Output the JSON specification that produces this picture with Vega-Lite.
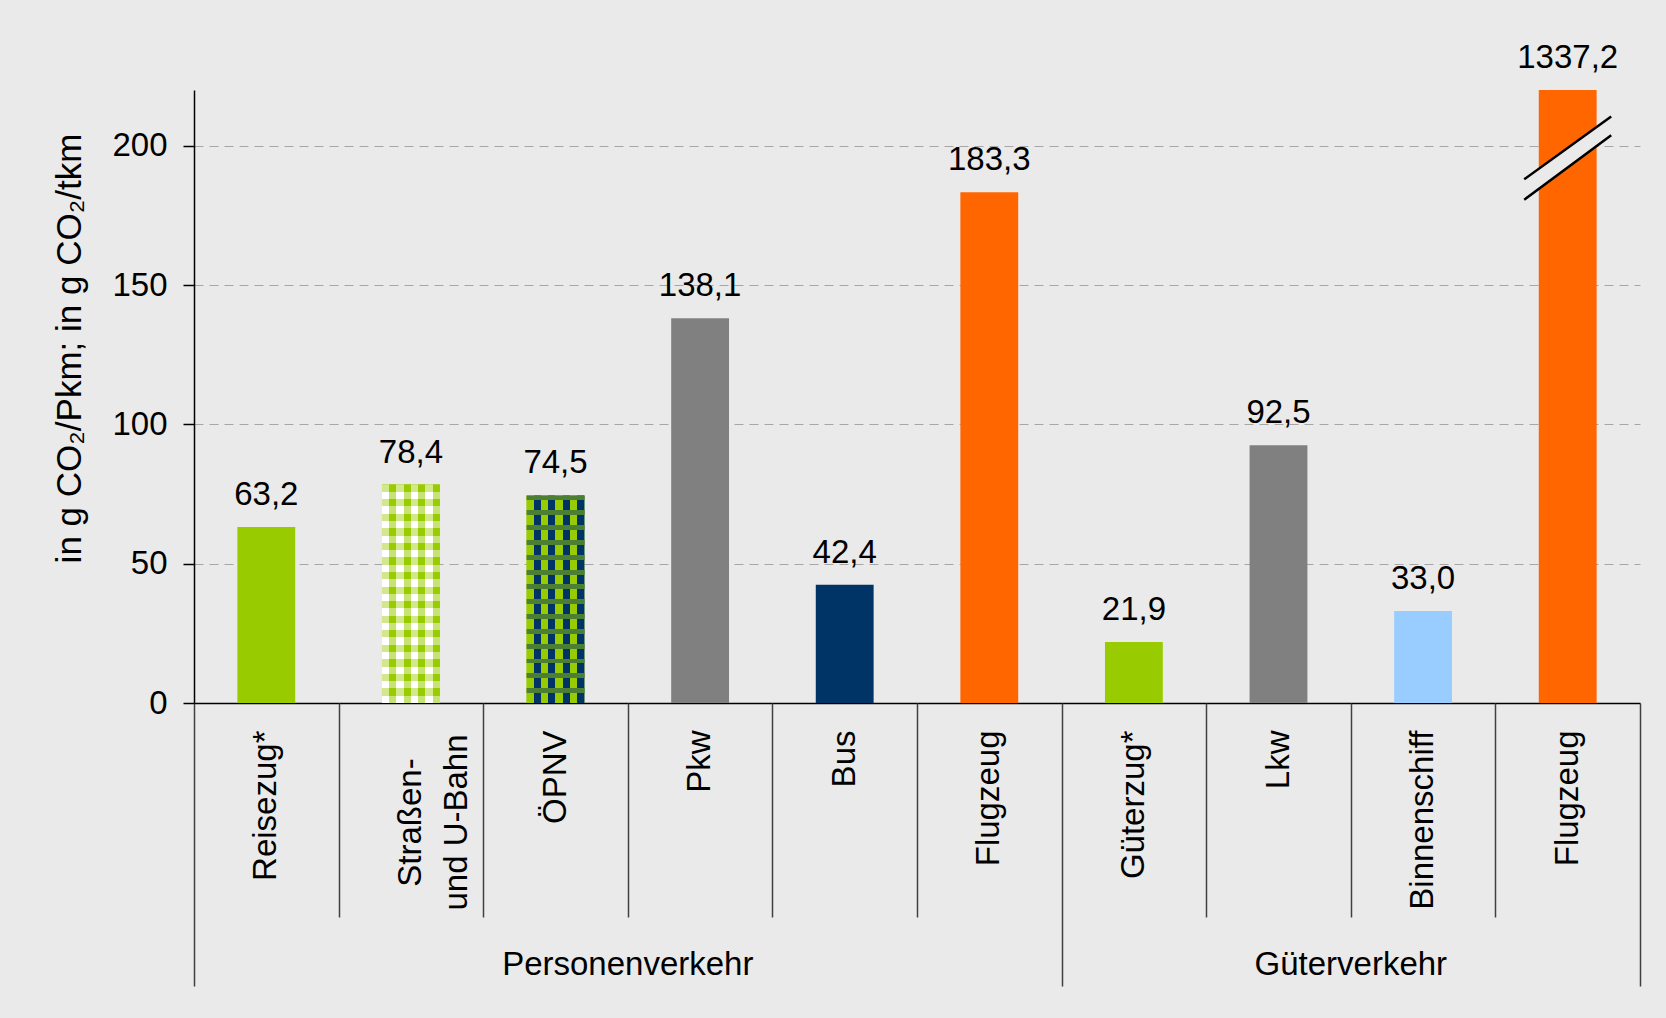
{
  "$schema": "https://vega.github.io/schema/vega-lite/v6.json",
  "width": 1446,
  "height": 613,
  "autosize": {"type": "none"},
  "padding": {"left": 194, "top": 90, "right": 26, "bottom": 315},
  "background": "#eaeaea",
  "config": {
    "font": "Liberation Sans",
    "view": {"stroke": null},
    "locale": {"number": {"decimal": ",", "thousands": ".", "grouping": [3], "currency": ["", " €"]}}
  },
  "data": {
    "values": [
      {"key": "Reisezug*", "group": "Personenverkehr", "value": 63.2},
      {"key": "Straßen- und U-Bahn", "group": "Personenverkehr", "value": 78.4},
      {"key": "ÖPNV", "group": "Personenverkehr", "value": 74.5},
      {"key": "Pkw", "group": "Personenverkehr", "value": 138.1},
      {"key": "Bus", "group": "Personenverkehr", "value": 42.4},
      {"key": "Flugzeug (P)", "group": "Personenverkehr", "value": 183.3},
      {"key": "Güterzug*", "group": "Güterverkehr", "value": 21.9},
      {"key": "Lkw", "group": "Güterverkehr", "value": 92.5},
      {"key": "Binnenschiff", "group": "Güterverkehr", "value": 33.0},
      {"key": "Flugzeug (G)", "group": "Güterverkehr", "value": 1337.2}
    ]
  },
  "resolve": {"axis": {"x": "independent"}},
  "layer": [
    {
      "mark": {"type": "bar", "width": {"band": 0.4}},
      "encoding": {
        "x": {
          "field": "key", "type": "nominal",
          "scale": {"type": "band", "domain": ["Reisezug*", "Straßen- und U-Bahn", "ÖPNV", "Pkw", "Bus", "Flugzeug (P)", "Güterzug*", "Lkw", "Binnenschiff", "Flugzeug (G)"], "paddingInner": 0, "paddingOuter": 0},
          "axis": {
            "orient": "bottom",
            "title": null, "ticks": false, "tickSize": 0, "grid": false,
            "domain": true, "domainColor": "#000000", "domainWidth": 1.5,
            "labelAngle": -90, "labelFontSize": 33, "labelColor": "#000000", "labelFont": "Liberation Sans",
            "labelLimit": 500, "labelOverlap": false, "labelLineHeight": 46,
            "labelAlign": {"condition": {"test": "datum.value == 'Straßen- und U-Bahn'", "value": "center"}, "value": "right"},
            "labelPadding": {"condition": {"test": "datum.value == 'Straßen- und U-Bahn'", "value": 119}, "value": 27},
            "labelExpr": "datum.value == 'Straßen- und U-Bahn' ? ['Straßen-', 'und U-Bahn'] : replace(replace(datum.value, ' (P)', ''), ' (G)', '')"
          }
        },
        "y": {
          "field": "value", "type": "quantitative",
          "scale": {"domain": [0, 220], "clamp": true, "nice": false},
          "axis": {
            "orient": "left",
            "values": [0, 50, 100, 150, 200],
            "title": "in g CO₂/Pkm; in g CO₂/tkm",
            "titleFontSize": 35, "titleFontWeight": "normal", "titleColor": "#000000", "titleFont": "Liberation Sans",
            "titleX": -125, "titleY": 258, "titleAngle": -90, "titleAlign": "center", "titleBaseline": "middle",
            "labelFontSize": 33, "labelColor": "#000000", "labelPadding": 16, "labelFont": "Liberation Sans",
            "tickSize": 11, "tickColor": "#000000", "tickWidth": 1.5,
            "domainColor": "#000000", "domainWidth": 1.5,
            "grid": true, "gridColor": "#a6a6a6", "gridDash": [9, 6], "gridWidth": 1
          }
        },
        "color": {
          "field": "key", "type": "nominal", "legend": null,
          "scale": {
            "domain": ["Reisezug*", "Straßen- und U-Bahn", "ÖPNV", "Pkw", "Bus", "Flugzeug (P)", "Güterzug*", "Lkw", "Binnenschiff", "Flugzeug (G)"],
            "range": ["#99cc00", "#99cc00", "#99cc00", "#808080", "#003366", "#ff6600", "#99cc00", "#808080", "#99ccff", "#ff6600"]
          }
        }
      }
    },
    {
      "transform": [{"filter": "datum.key == 'Straßen- und U-Bahn'"}],
      "mark": {
        "type": "bar", "width": {"band": 0.4},
        "fill": {"gradient": "linear", "x1": 0, "y1": 0, "x2": 0, "y2": 1, "stops": [
          {"offset": 0, "color": "#99cc00"}, {"offset": 0.0333, "color": "#99cc00"}, {"offset": 0.0333, "color": "#ffffff"}, {"offset": 0.0667, "color": "#ffffff"},
          {"offset": 0.0667, "color": "#99cc00"}, {"offset": 0.1, "color": "#99cc00"}, {"offset": 0.1, "color": "#ffffff"}, {"offset": 0.1333, "color": "#ffffff"},
          {"offset": 0.1333, "color": "#99cc00"}, {"offset": 0.1667, "color": "#99cc00"}, {"offset": 0.1667, "color": "#ffffff"}, {"offset": 0.2, "color": "#ffffff"},
          {"offset": 0.2, "color": "#99cc00"}, {"offset": 0.2333, "color": "#99cc00"}, {"offset": 0.2333, "color": "#ffffff"}, {"offset": 0.2667, "color": "#ffffff"},
          {"offset": 0.2667, "color": "#99cc00"}, {"offset": 0.3, "color": "#99cc00"}, {"offset": 0.3, "color": "#ffffff"}, {"offset": 0.3333, "color": "#ffffff"},
          {"offset": 0.3333, "color": "#99cc00"}, {"offset": 0.3667, "color": "#99cc00"}, {"offset": 0.3667, "color": "#ffffff"}, {"offset": 0.4, "color": "#ffffff"},
          {"offset": 0.4, "color": "#99cc00"}, {"offset": 0.4333, "color": "#99cc00"}, {"offset": 0.4333, "color": "#ffffff"}, {"offset": 0.4667, "color": "#ffffff"},
          {"offset": 0.4667, "color": "#99cc00"}, {"offset": 0.5, "color": "#99cc00"}, {"offset": 0.5, "color": "#ffffff"}, {"offset": 0.5333, "color": "#ffffff"},
          {"offset": 0.5333, "color": "#99cc00"}, {"offset": 0.5667, "color": "#99cc00"}, {"offset": 0.5667, "color": "#ffffff"}, {"offset": 0.6, "color": "#ffffff"},
          {"offset": 0.6, "color": "#99cc00"}, {"offset": 0.6333, "color": "#99cc00"}, {"offset": 0.6333, "color": "#ffffff"}, {"offset": 0.6667, "color": "#ffffff"},
          {"offset": 0.6667, "color": "#99cc00"}, {"offset": 0.7, "color": "#99cc00"}, {"offset": 0.7, "color": "#ffffff"}, {"offset": 0.7333, "color": "#ffffff"},
          {"offset": 0.7333, "color": "#99cc00"}, {"offset": 0.7667, "color": "#99cc00"}, {"offset": 0.7667, "color": "#ffffff"}, {"offset": 0.8, "color": "#ffffff"},
          {"offset": 0.8, "color": "#99cc00"}, {"offset": 0.8333, "color": "#99cc00"}, {"offset": 0.8333, "color": "#ffffff"}, {"offset": 0.8667, "color": "#ffffff"},
          {"offset": 0.8667, "color": "#99cc00"}, {"offset": 0.9, "color": "#99cc00"}, {"offset": 0.9, "color": "#ffffff"}, {"offset": 0.9333, "color": "#ffffff"},
          {"offset": 0.9333, "color": "#99cc00"}, {"offset": 0.9667, "color": "#99cc00"}, {"offset": 0.9667, "color": "#ffffff"}, {"offset": 1, "color": "#ffffff"}
        ]}
      },
      "encoding": {
        "x": {"field": "key", "type": "nominal", "scale": {"type": "band"}, "axis": null},
        "y": {"field": "value", "type": "quantitative"}
      }
    },
    {
      "transform": [{"filter": "datum.key == 'Straßen- und U-Bahn'"}],
      "mark": {
        "type": "bar", "width": {"band": 0.4},
        "fill": {"gradient": "linear", "x1": 0, "y1": 0, "x2": 1, "y2": 0, "stops": [
          {"offset": 0, "color": "rgba(255,255,255,0.55)"}, {"offset": 0.125, "color": "rgba(255,255,255,0.55)"},
          {"offset": 0.125, "color": "rgba(153,204,0,0.55)"}, {"offset": 0.25, "color": "rgba(153,204,0,0.55)"},
          {"offset": 0.25, "color": "rgba(255,255,255,0.55)"}, {"offset": 0.375, "color": "rgba(255,255,255,0.55)"},
          {"offset": 0.375, "color": "rgba(153,204,0,0.55)"}, {"offset": 0.5, "color": "rgba(153,204,0,0.55)"},
          {"offset": 0.5, "color": "rgba(255,255,255,0.55)"}, {"offset": 0.625, "color": "rgba(255,255,255,0.55)"},
          {"offset": 0.625, "color": "rgba(153,204,0,0.55)"}, {"offset": 0.75, "color": "rgba(153,204,0,0.55)"},
          {"offset": 0.75, "color": "rgba(255,255,255,0.55)"}, {"offset": 0.875, "color": "rgba(255,255,255,0.55)"},
          {"offset": 0.875, "color": "rgba(153,204,0,0.55)"}, {"offset": 1, "color": "rgba(153,204,0,0.55)"}
        ]}
      },
      "encoding": {
        "x": {"field": "key", "type": "nominal", "scale": {"type": "band"}, "axis": null},
        "y": {"field": "value", "type": "quantitative"}
      }
    },
    {
      "transform": [{"filter": "datum.key == 'ÖPNV'"}],
      "mark": {
        "type": "bar", "width": {"band": 0.4},
        "fill": {"gradient": "linear", "x1": 0, "y1": 0, "x2": 1, "y2": 0, "stops": [
          {"offset": 0, "color": "#99cc00"}, {"offset": 0.125, "color": "#99cc00"}, {"offset": 0.125, "color": "#003366"}, {"offset": 0.25, "color": "#003366"},
          {"offset": 0.25, "color": "#99cc00"}, {"offset": 0.375, "color": "#99cc00"}, {"offset": 0.375, "color": "#003366"}, {"offset": 0.5, "color": "#003366"},
          {"offset": 0.5, "color": "#99cc00"}, {"offset": 0.625, "color": "#99cc00"}, {"offset": 0.625, "color": "#003366"}, {"offset": 0.75, "color": "#003366"},
          {"offset": 0.75, "color": "#99cc00"}, {"offset": 0.875, "color": "#99cc00"}, {"offset": 0.875, "color": "#003366"}, {"offset": 1, "color": "#003366"}
        ]}
      },
      "encoding": {
        "x": {"field": "key", "type": "nominal", "scale": {"type": "band"}, "axis": null},
        "y": {"field": "value", "type": "quantitative"}
      }
    },
    {
      "transform": [{"filter": "datum.key == 'ÖPNV'"}],
      "mark": {
        "type": "bar", "width": {"band": 0.4},
        "fill": {"gradient": "linear", "x1": 0, "y1": 0, "x2": 0, "y2": 1, "stops": [
          {"offset": 0, "color": "#4c7f33"}, {"offset": 0.0238, "color": "#4c7f33"}, {"offset": 0.0238, "color": "rgba(0,0,0,0)"}, {"offset": 0.0714, "color": "rgba(0,0,0,0)"},
          {"offset": 0.0714, "color": "#4c7f33"}, {"offset": 0.0952, "color": "#4c7f33"}, {"offset": 0.0952, "color": "rgba(0,0,0,0)"}, {"offset": 0.1429, "color": "rgba(0,0,0,0)"},
          {"offset": 0.1429, "color": "#4c7f33"}, {"offset": 0.1667, "color": "#4c7f33"}, {"offset": 0.1667, "color": "rgba(0,0,0,0)"}, {"offset": 0.2143, "color": "rgba(0,0,0,0)"},
          {"offset": 0.2143, "color": "#4c7f33"}, {"offset": 0.2381, "color": "#4c7f33"}, {"offset": 0.2381, "color": "rgba(0,0,0,0)"}, {"offset": 0.2857, "color": "rgba(0,0,0,0)"},
          {"offset": 0.2857, "color": "#4c7f33"}, {"offset": 0.3095, "color": "#4c7f33"}, {"offset": 0.3095, "color": "rgba(0,0,0,0)"}, {"offset": 0.3571, "color": "rgba(0,0,0,0)"},
          {"offset": 0.3571, "color": "#4c7f33"}, {"offset": 0.381, "color": "#4c7f33"}, {"offset": 0.381, "color": "rgba(0,0,0,0)"}, {"offset": 0.4286, "color": "rgba(0,0,0,0)"},
          {"offset": 0.4286, "color": "#4c7f33"}, {"offset": 0.4524, "color": "#4c7f33"}, {"offset": 0.4524, "color": "rgba(0,0,0,0)"}, {"offset": 0.5, "color": "rgba(0,0,0,0)"},
          {"offset": 0.5, "color": "#4c7f33"}, {"offset": 0.5238, "color": "#4c7f33"}, {"offset": 0.5238, "color": "rgba(0,0,0,0)"}, {"offset": 0.5714, "color": "rgba(0,0,0,0)"},
          {"offset": 0.5714, "color": "#4c7f33"}, {"offset": 0.5952, "color": "#4c7f33"}, {"offset": 0.5952, "color": "rgba(0,0,0,0)"}, {"offset": 0.6429, "color": "rgba(0,0,0,0)"},
          {"offset": 0.6429, "color": "#4c7f33"}, {"offset": 0.6667, "color": "#4c7f33"}, {"offset": 0.6667, "color": "rgba(0,0,0,0)"}, {"offset": 0.7143, "color": "rgba(0,0,0,0)"},
          {"offset": 0.7143, "color": "#4c7f33"}, {"offset": 0.7381, "color": "#4c7f33"}, {"offset": 0.7381, "color": "rgba(0,0,0,0)"}, {"offset": 0.7857, "color": "rgba(0,0,0,0)"},
          {"offset": 0.7857, "color": "#4c7f33"}, {"offset": 0.8095, "color": "#4c7f33"}, {"offset": 0.8095, "color": "rgba(0,0,0,0)"}, {"offset": 0.8571, "color": "rgba(0,0,0,0)"},
          {"offset": 0.8571, "color": "#4c7f33"}, {"offset": 0.881, "color": "#4c7f33"}, {"offset": 0.881, "color": "rgba(0,0,0,0)"}, {"offset": 0.9286, "color": "rgba(0,0,0,0)"},
          {"offset": 0.9286, "color": "#4c7f33"}, {"offset": 0.9524, "color": "#4c7f33"}, {"offset": 0.9524, "color": "rgba(0,0,0,0)"}, {"offset": 1, "color": "rgba(0,0,0,0)"}
        ]}
      },
      "encoding": {
        "x": {"field": "key", "type": "nominal", "scale": {"type": "band"}, "axis": null},
        "y": {"field": "value", "type": "quantitative"}
      }
    },
    {
      "mark": {"type": "text", "fontSize": 33, "baseline": "alphabetic", "dy": -22, "color": "#000000", "font": "Liberation Sans"},
      "encoding": {
        "x": {
          "field": "key", "type": "nominal", "scale": {"type": "band"},
          "axis": {
            "orient": "bottom", "title": null, "labels": false, "domain": false, "grid": false, "ticks": true,
            "tickBand": "extent", "tickColor": "#404040", "tickWidth": 1.5,
            "tickSize": {"condition": {"test": "!datum.value || datum.value == 'Flugzeug (P)' || datum.value == 'Flugzeug (G)'", "value": 283}, "value": 214}
          }
        },
        "y": {"field": "value", "type": "quantitative"},
        "text": {"field": "value", "type": "quantitative", "format": ".1f"}
      }
    },
    {
      "transform": [{"filter": "datum.key == 'Pkw' || datum.key == 'Binnenschiff'"}],
      "mark": {"type": "text", "fontSize": 33, "baseline": "middle", "align": "center", "y": "height", "dy": 262, "color": "#000000", "font": "Liberation Sans"},
      "encoding": {
        "x": {"field": "key", "type": "nominal", "scale": {"type": "band"}, "bandPosition": 0, "axis": null},
        "text": {"field": "group", "type": "nominal"}
      }
    },
    {
      "transform": [{"filter": "datum.value > 220"}],
      "mark": {"type": "point", "shape": "M-1,0.497L1,-0.946L1,-0.517L-1,0.967Z", "size": 7569, "filled": true, "fill": "#eaeaea", "stroke": null, "opacity": 1},
      "encoding": {
        "x": {"field": "key", "type": "nominal", "scale": {"type": "band"}, "axis": null},
        "y": {"datum": 195.7, "type": "quantitative"}
      }
    },
    {
      "transform": [{"filter": "datum.value > 220"}],
      "mark": {"type": "point", "shape": "M-1,0.497L1,-0.946M-1,0.967L1,-0.517", "size": 7569, "filled": false, "stroke": "#000000", "strokeWidth": 2.5, "opacity": 1},
      "encoding": {
        "x": {"field": "key", "type": "nominal", "scale": {"type": "band"}, "axis": null},
        "y": {"datum": 195.7, "type": "quantitative"}
      }
    }
  ]
}
